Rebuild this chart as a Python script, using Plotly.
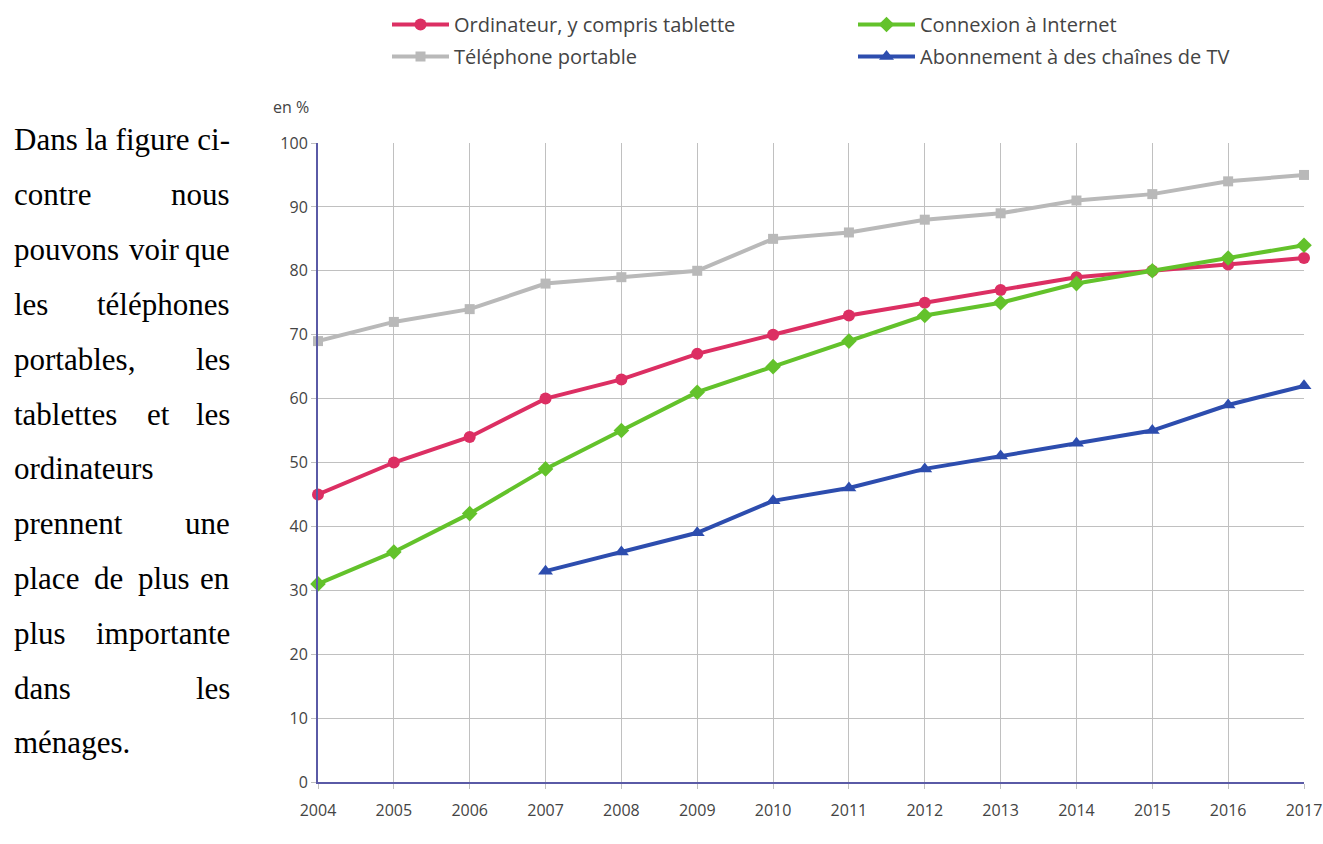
import plotly.graph_objects as go

# ---------------- data ----------------
years = list(range(2004, 2018))
ordinateur = [45, 50, 54, 60, 63, 67, 70, 73, 75, 77, 79, 80, 81, 82]
telephone = [69, 72, 74, 78, 79, 80, 85, 86, 88, 89, 91, 92, 94, 95]
internet = [31, 36, 42, 49, 55, 61, 65, 69, 73, 75, 78, 80, 82, 84]
tv_years = list(range(2007, 2018))
tv = [33, 36, 39, 44, 46, 49, 51, 53, 55, 59, 62]

names = ["Ordinateur, y compris tablette", "Téléphone portable",
         "Connexion à Internet", "Abonnement à des chaînes de TV"]
y_ticks = list(range(0, 101, 10))
y_label = "en %"

text_lines = [
    ["Dans la figure ci-"],
    ["contre", "nous"],
    ["pouvons", "voir", "que"],
    ["les", "téléphones"],
    ["portables,", "les"],
    ["tablettes", "et", "les"],
    ["ordinateurs"],
    ["prennent", "une"],
    ["place", "de", "plus", "en"],
    ["plus", "importante"],
    ["dans", "les"],
    ["ménages."],
]

# ---------------- layout geometry (px) ----------------
W, H = 1323, 844
PL, PR, PT, PB = 318, 1304, 143, 782


def px_x(x):
    return (x - PL) / (PR - PL)


def px_y(y):
    return (PB - y) / (PB - PT)


fig = go.Figure()

styles = [
    dict(color="#dc2f63", symbol="circle", size=12),
    dict(color="#b9b9b9", symbol="square", size=10),
    dict(color="#63c22b", symbol="diamond", size=12),
    dict(color="#2d4dae", symbol="triangle-up", size=13),
]
series = [(years, ordinateur), (years, telephone), (years, internet), (tv_years, tv)]
legends = ["legend", "legend", "legend2", "legend2"]

for (xs, ys), name, st, lg in zip(series, names, styles, legends):
    fig.add_trace(go.Scatter(
        x=xs, y=ys, name=name, mode="lines+markers",
        line=dict(color=st["color"], width=4),
        marker=dict(color=st["color"], symbol=st["symbol"], size=st["size"]),
        cliponaxis=False, legend=lg, legendgroup=name,
    ))

# ---------------- justified text on the left ----------------
TW = {
    'a': 444, 'b': 500, 'c': 444, 'd': 500, 'e': 444, 'é': 444, 'f': 333, 'g': 500,
    'h': 500, 'i': 278, 'l': 278, 'm': 778, 'n': 500, 'o': 500, 'p': 500, 'q': 500,
    'r': 333, 's': 389, 't': 278, 'u': 500, 'v': 500, 'y': 500, ',': 250, '.': 250,
    '-': 333, 'D': 722,
}
FS = 31
TXT_L, TXT_R = 12, 232
TXT_Y0, TXT_DY = 140, 54.8


def wwidth(w):
    return sum(TW.get(c, 500) for c in w) / 1000 * FS


annotations = []
for i, words in enumerate(text_lines):
    y = TXT_Y0 + i * TXT_DY
    last = (i == len(text_lines) - 1)
    if len(words) == 1 or last:
        positions = [(" ".join(words), TXT_L, "left")]
    else:
        widths = [wwidth(w) for w in words]
        gap = (TXT_R - TXT_L - sum(widths)) / (len(words) - 1)
        positions = []
        x = TXT_L
        for k, (w, wd) in enumerate(zip(words, widths)):
            if k == len(words) - 1:
                positions.append((w, TXT_R, "right"))
            else:
                positions.append((w, x, "left"))
            x += wd + gap
    for w, x, anc in positions:
        annotations.append(dict(
            text=w, x=px_x(x), y=px_y(y), xref="paper", yref="paper",
            xanchor=anc, yanchor="middle", showarrow=False,
            font=dict(family="Liberation Serif", size=FS, color="#000000"),
        ))

annotations.append(dict(
    text=y_label, x=px_x(291), y=px_y(107), xref="paper", yref="paper",
    xanchor="center", yanchor="middle", showarrow=False,
    font=dict(family="Open Sans", size=16, color="#444444"),
))

legend_common = dict(
    orientation="v", xref="container", yref="container",
    xanchor="left", yanchor="top", bgcolor="rgba(0,0,0,0)",
    font=dict(family="Open Sans", size=20, color="#444444"),
    tracegroupgap=3, itemwidth=57,
)

fig.update_layout(
    width=W, height=H,
    margin=dict(l=PL, r=W - PR, t=PT, b=H - PB, autoexpand=False),
    paper_bgcolor="white", plot_bgcolor="white",
    showlegend=True,
    legend=dict(x=387 / W, y=1 - 5 / H, **legend_common),
    legend2=dict(x=853 / W, y=1 - 5 / H, **legend_common),
    annotations=annotations,
    xaxis=dict(
        range=[2004, 2017], tickmode="array", tickvals=years,
        ticktext=[str(y) for y in years],
        showgrid=True, gridcolor="#c0c0c0", gridwidth=1,
        showline=True, linecolor="#5a5aa6", linewidth=2,
        ticks="outside", ticklen=5, tickcolor="#c0c0c0",
        ticklabelstandoff=8,
        tickfont=dict(family="Open Sans", size=16, color="#444444"),
        zeroline=False, fixedrange=True, automargin=False,
    ),
    yaxis=dict(
        range=[0, 100], tickmode="array", tickvals=y_ticks,
        showgrid=True, gridcolor="#c0c0c0", gridwidth=1,
        showline=True, linecolor="#5a5aa6", linewidth=2,
        ticks="outside", ticklen=5, tickcolor="#c0c0c0",
        tickfont=dict(family="Open Sans", size=16, color="#444444"),
        zeroline=False, fixedrange=True, automargin=False,
    ),
)

fig.write_html("out.html", config={"displayModeBar": False},
               post_script="document.body.style.margin='0px';")
